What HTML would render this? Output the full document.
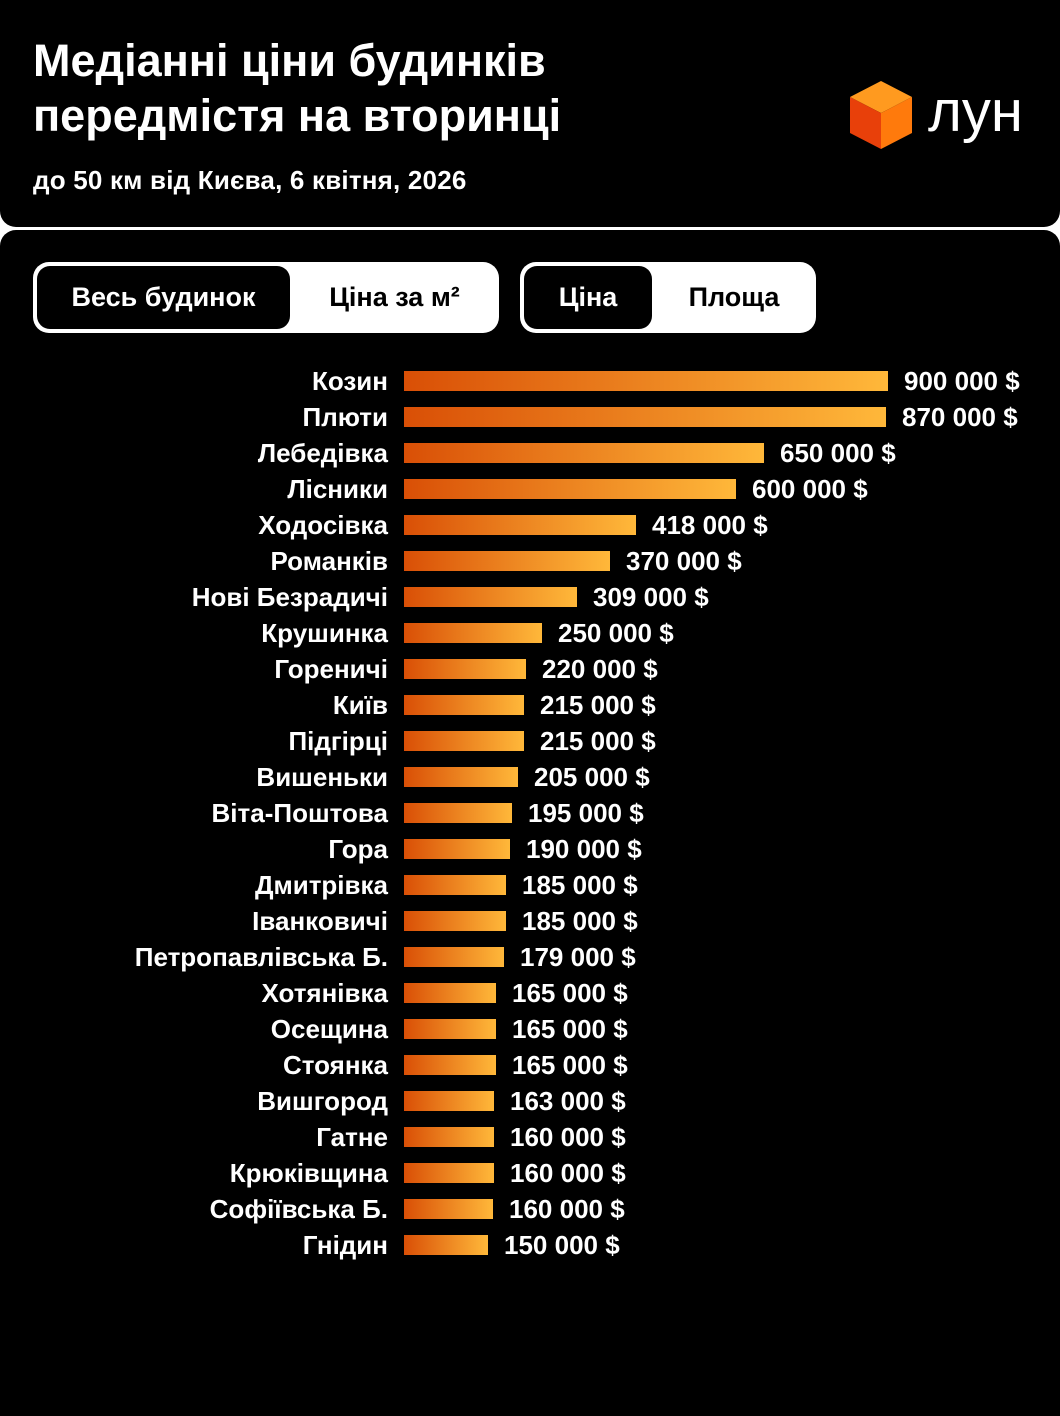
<!DOCTYPE html>
<html><head><meta charset="utf-8"><style>
*{margin:0;padding:0;box-sizing:border-box}
body{width:1060px;height:1416px;background:#fff;font-family:"Liberation Sans",sans-serif;color:#fff;position:relative;overflow:hidden}
.card{position:absolute;left:0;width:1060px;background:#000;border-radius:16px}
.t{position:absolute;left:33px;font-weight:bold;font-size:45px;line-height:55px;top:33px}
.sub{position:absolute;left:33px;top:165px;font-size:26px;font-weight:bold;letter-spacing:0.2px}
.tog{position:absolute;top:262px;height:71px;background:#fff;border-radius:16px}
.on{position:absolute;top:4px;height:63px;background:#000;border-radius:13px;color:#fff;font-size:27px;font-weight:bold;display:flex;align-items:center;justify-content:center}
.off{position:absolute;top:4px;height:63px;color:#000;font-size:27px;font-weight:bold;display:flex;align-items:center;justify-content:center}
.row{position:absolute;left:0;width:1060px;height:36px}
.lab{position:absolute;right:672px;top:4px;font-size:26px;font-weight:bold;line-height:28px;white-space:nowrap}
.bar{position:absolute;left:404px;top:8px;height:20px;background:linear-gradient(90deg,#d94f06,#ffb83a)}
.val{position:absolute;top:4px;font-size:26px;font-weight:bold;line-height:28px;white-space:nowrap}
</style></head><body>
<div class="card" style="top:0;height:227px;border-radius:0 0 16px 16px">
<div class="t">Медіанні ціни будинків<br>передмістя на вторинці</div>
<div class="sub">до 50 км від Києва, 6 квітня, 2026</div>
<svg style="position:absolute;left:848px;top:79px" width="66" height="72" viewBox="0 0 66 72">
<polygon points="33,2 64,18 33,34 2,18" fill="#ff9a1f"/>
<polygon points="2,18 33,34 33,70 2,54" fill="#e8400a"/>
<polygon points="33,34 64,18 64,54 33,70" fill="#ff7a0c"/>
</svg>
<div style="position:absolute;left:928px;top:80px;font-size:58px;line-height:64px">лун</div>
</div>
<div class="card" style="top:230px;height:1186px;border-radius:16px 16px 0 0"></div>
<div class="tog" style="left:33px;width:466px">
<div class="on" style="left:4px;width:253px">Весь будинок</div>
<div class="off" style="left:257px;width:209px">Ціна за м²</div>
</div>
<div class="tog" style="left:520px;width:296px">
<div class="on" style="left:4px;width:128px">Ціна</div>
<div class="off" style="left:132px;width:164px">Площа</div>
</div>
<div id="rows"></div>
<script>
var d=[["Козин",900,484],["Плюти",870,482],["Лебедівка",650,360],["Лісники",600,332],["Ходосівка",418,232],["Романків",370,206],["Нові Безрадичі",309,173],["Крушинка",250,138],["Гореничі",220,122],["Київ",215,120],["Підгірці",215,120],["Вишеньки",205,114],["Віта-Поштова",195,108],["Гора",190,106],["Дмитрівка",185,102],["Іванковичі",185,102],["Петропавлівська Б.",179,100],["Хотянівка",165,92],["Осещина",165,92],["Стоянка",165,92],["Вишгород",163,90],["Гатне",160,90],["Крюківщина",160,90],["Софіївська Б.",160,89],["Гнідин",150,84]];
var h="";d.forEach(function(r,i){var w=r[2];h+='<div class="row" style="top:'+(363+i*36)+'px"><div class="lab">'+r[0]+'</div><div class="bar" style="width:'+w+'px"></div><div class="val" style="left:'+(404+w+16)+'px">'+r[1]+' 000 $</div></div>';});
document.getElementById("rows").innerHTML=h;
</script>
</body></html>
